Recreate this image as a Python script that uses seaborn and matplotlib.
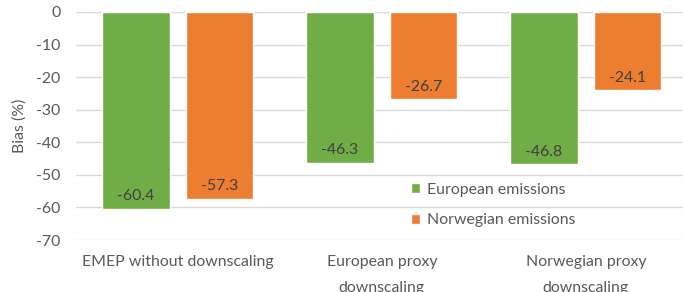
import pandas as pd
import seaborn as sns
import matplotlib.pyplot as plt

# Chart values
categories = ['EMEP without downscaling', 'European proxy\ndownscaling', 'Norwegian proxy\ndownscaling']
european = [-60.4, -46.3, -46.8]
norwegian = [-57.3, -26.7, -24.1]
series_names = ['European emissions', 'Norwegian emissions']
yticks = [0, -10, -20, -30, -40, -50, -60, -70]

df = pd.DataFrame({
    'Category': categories * 2,
    'Bias': european + norwegian,
    'Series': [series_names[0]] * 3 + [series_names[1]] * 3,
})

sns.set_style('white')
plt.rcParams['font.family'] = ['Lato', 'DejaVu Sans']
text_color = '#595959'
fs = 11.4

fig = plt.figure(figsize=(6.83, 2.92), dpi=100)
ax = fig.add_axes([0.111, 0.178, 0.896, 0.781])

sns.barplot(data=df, x='Category', y='Bias', hue='Series', ax=ax,
            palette=['#70AD47', '#ED7D31'], width=0.82, gap=0.19,
            saturation=1, errorbar=None)

for cont in ax.containers:
    ax.bar_label(cont, fmt='%.1f', padding=-14, color='#404040', fontsize=fs)

ax.set_ylim(-70, 0)
ax.set_xlim(-0.5, 2.5)
ax.set_yticks(yticks)
ax.set_yticklabels([str(v) for v in yticks])
ax.yaxis.grid(True, color='#D9D9D9', linewidth=1)
ax.set_axisbelow(True)
for s in ax.spines.values():
    s.set_visible(False)
ax.tick_params(axis='both', length=0, colors=text_color, labelsize=fs)
ax.tick_params(axis='y', pad=11)
ax.tick_params(axis='x', pad=11)
for t in ax.get_xticklabels():
    t.set_linespacing(2.05)
ax.set_xlabel('')
ax.set_ylabel('Bias (%)', color=text_color, fontsize=fs, labelpad=7)

leg = ax.legend(loc='upper left', bbox_to_anchor=(0.537, 0.28), frameon=False,
                fontsize=fs, handlelength=0.6, handleheight=0.6,
                handletextpad=0.4, labelspacing=1.05, borderaxespad=0)
for t in leg.get_texts():
    t.set_color(text_color)

fig.savefig('out.png', dpi=100)
